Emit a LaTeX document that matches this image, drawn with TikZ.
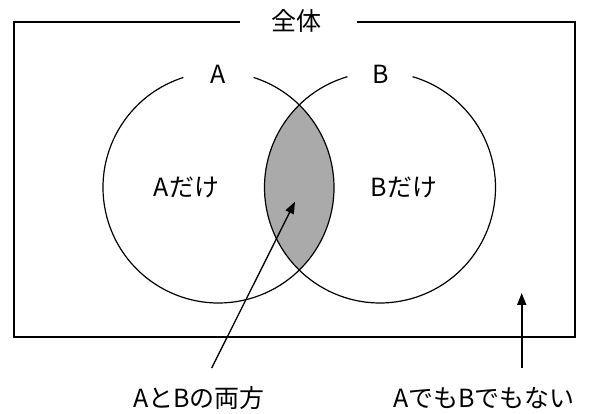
\documentclass[tikz,border=0pt]{standalone}
\usepackage{fontspec}
\setmainfont{Noto Sans CJK JP}
\usetikzlibrary{arrows.meta}
\definecolor{lensgray}{RGB}{170,170,170}
\begin{document}
\begin{tikzpicture}[x=1pt,y=1pt,
  lbl/.style={font=\fontsize{25}{30}\selectfont, inner sep=0pt},
  ring/.style={line width=1.2pt},
  frame/.style={line width=2pt},
  pointer/.style={line width=1.3pt, -{Triangle[length=12pt,width=9pt]}}]
\useasboundingbox (0,0) rectangle (590,414);
\coordinate (cA) at (218.5,226.5);
\coordinate (cB) at (380,226.5);
% intersection
\begin{scope}
  \clip (cA) circle (115.5);
  \fill[lensgray] (cB) circle (115.5);
\end{scope}
% circles with gaps for labels
\draw[ring] (cA) ++(107.7:115.5) arc[start angle=107.7, end angle=432.3, radius=115.5];
\draw[ring] (cB) ++(106.4:115.5) arc[start angle=106.4, end angle=433.6, radius=115.5];
% frame with gap for title
\draw[frame] (240,392) -- (14,392) -- (14,77) -- (575,77) -- (575,392) -- (357,392);
% labels
\node[lbl] (whole) at (296,393) {全体};
\node[lbl] (labA) at (218.5,339.5) {A};
\node[lbl] (labB) at (380.5,339.5) {B};
\node[lbl] (onlyA) at (186.5,227) {Aだけ};
\node[lbl] (onlyB) at (404,226.5) {Bだけ};
\node[lbl] (both) at (199,16) {AとBの両方};
\node[lbl] (neither) at (484,16) {AでもBでもない};
% pointers
\coordinate (bothTip) at (295,212.3);
\coordinate (bothTail) at (211.7,46);
\coordinate (neitherTip) at (521.7,121);
\coordinate (neitherTail) at (521.7,46);
\draw[pointer] (bothTail) -- (bothTip);
\draw[pointer, line width=1.7pt] (neitherTail) -- (neitherTip);
\end{tikzpicture}
\end{document}
